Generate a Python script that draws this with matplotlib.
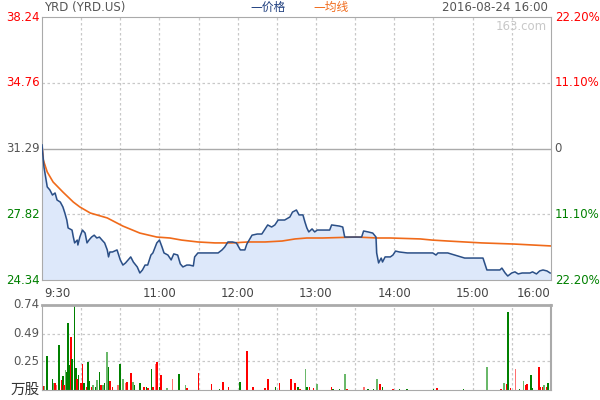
import numpy as np
import matplotlib
matplotlib.use('Agg')
from matplotlib import pyplot as plt

plt.rcParams['font.family'] = ['DejaVu Sans', 'Noto Sans CJK SC']
plt.rcParams['axes.unicode_minus'] = False

# 分钟数(从9:30起), 价格
price_min = [0, 1.5, 4, 6, 8, 10, 11.5, 14, 16, 17.5, 19, 20, 23, 24, 25, 27, 27.5, 29,
             31, 33, 34.5, 36, 38, 40, 42, 44, 46, 48, 50, 51, 52, 54, 57.5, 60, 62, 64,
             66, 68, 70, 73, 75, 77, 79, 81, 83.5, 85, 88, 90, 92, 93.5, 96.5, 99, 101,
             104, 106, 108, 111, 113, 116, 117, 119.5, 127, 135, 138, 140, 142.5, 146,
             149, 152, 155.5, 157, 161, 165, 168.5, 171, 173, 176, 178.5, 181, 186, 190,
             192, 195, 197, 200, 201.5, 203, 204.5, 207, 209, 211, 215, 220.5, 222, 228,
             230.5, 232, 238, 245, 246.5, 250, 253.5, 256, 256.5, 258, 260, 261, 263, 267,
             269, 271, 274, 280, 284, 290, 296, 299.5, 302, 303.5, 311, 324, 325.5, 332,
             338, 341, 347, 351, 352.5, 355, 357, 360, 362.5, 365, 368, 370, 374, 376,
             379, 381.5, 384, 387, 389.5]
price = [31.48, 30.31, 29.26, 29.10, 28.83, 28.94, 28.57, 28.46, 28.20, 27.88, 27.51, 27.09,
         26.98, 26.61, 26.30, 26.45, 26.19, 26.61, 26.98, 26.82, 26.30, 26.45, 26.61, 26.71,
         26.56, 26.61, 26.45, 26.30, 25.93, 25.56, 25.82, 25.82, 25.93, 25.40, 25.13, 25.24,
         25.40, 25.56, 25.29, 25.03, 24.71, 24.87, 25.13, 25.13, 25.66, 25.77, 26.30, 26.45,
         26.08, 25.77, 25.66, 25.40, 25.72, 25.66, 25.19, 25.03, 25.13, 25.13, 25.08, 25.56,
         25.77, 25.77, 25.77, 25.93, 26.08, 26.35, 26.35, 26.30, 25.93, 25.93, 26.24, 26.71,
         26.77, 26.77, 27.04, 27.25, 27.14, 27.25, 27.51, 27.51, 27.67, 27.93, 28.04, 27.78,
         27.78, 27.41, 27.09, 26.88, 27.04, 26.88, 26.98, 26.98, 26.98, 27.25, 27.19, 27.14,
         26.61, 26.61, 26.61, 26.93, 26.88, 26.82, 26.61, 25.77, 25.24, 25.50, 25.29, 25.56,
         25.56, 25.66, 25.87, 25.82, 25.77, 25.77, 25.77, 25.77, 25.77, 25.66, 25.77, 25.77,
         25.50, 25.50, 25.50, 25.50, 24.87, 24.87, 24.87, 24.97, 24.71, 24.55, 24.71, 24.77,
         24.66, 24.71, 24.71, 24.71, 24.77, 24.66, 24.82, 24.87, 24.82, 24.71]

# 均价线
avg_min = [0, 1, 4, 8.5, 16, 24, 29, 37, 50, 62, 75, 88, 98, 107, 119.5, 132.5, 145.5,
           158, 171, 184, 194, 203, 215, 241, 257, 267, 290, 299, 311, 337, 362, 390]
avg_price = [31.47, 30.68, 30.05, 29.52, 28.99, 28.46, 28.20, 27.88, 27.62, 27.19, 26.82,
             26.61, 26.56, 26.45, 26.35, 26.30, 26.30, 26.35, 26.35, 26.40, 26.51, 26.56,
             26.56, 26.61, 26.56, 26.56, 26.51, 26.45, 26.40, 26.30, 26.24, 26.14]

# 成交量(万股)
vol_min = [1, 2, 4, 8, 9, 10, 11, 13, 15, 16, 17, 18, 19, 20, 21, 22, 23, 25, 26, 27, 28,
           30, 31, 32, 34, 35, 36, 38, 39, 41, 42, 44, 45, 47, 48, 50, 51, 52, 54, 58, 60,
           62, 64, 65, 68, 70, 71, 75, 78, 80, 81, 84, 85, 87, 88, 90, 91, 96, 100, 105,
           110, 111, 120, 130, 136, 139, 143, 152, 157, 162, 171, 173, 179, 182, 191, 194,
           196, 198, 202, 203, 205, 208, 211, 222, 223, 228, 232, 234, 247, 250, 254, 257,
           259, 261, 269, 274, 280, 300, 303, 323, 341, 352, 354, 356, 357, 359, 363, 366,
           369, 371, 372, 375, 376, 381, 382, 384, 385, 387, 388]
vol = [0.035, 0.035, 0.30, 0.10, 0.06, 0.06, 0.04, 0.39, 0.09, 0.12, 0.04, 0.17, 0.16, 0.58,
       0.22, 0.46, 0.27, 0.74, 0.19, 0.10, 0.13, 0.06, 0.23, 0.06, 0.03, 0.24, 0.08, 0.03,
       0.04, 0.03, 0.09, 0.16, 0.04, 0.04, 0.06, 0.33, 0.20, 0.08, 0.03, 0.04, 0.23, 0.10,
       0.06, 0.07, 0.15, 0.07, 0.04, 0.06, 0.03, 0.03, 0.02, 0.18, 0.03, 0.23, 0.24, 0.03,
       0.13, 0.02, 0.10, 0.14, 0.04, 0.02, 0.15, 0.05, 0.01, 0.07, 0.03, 0.07, 0.34, 0.03,
       0.02, 0.10, 0.03, 0.06, 0.10, 0.06, 0.03, 0.01, 0.18, 0.03, 0.03, 0.02, 0.05, 0.03,
       0.01, 0.01, 0.14, 0.01, 0.03, 0.01, 0.01, 0.10, 0.05, 0.03, 0.01, 0.01, 0.01, 0.01,
       0.02, 0.01, 0.20, 0.01, 0.06, 0.05, 0.68, 0.02, 0.18, 0.01, 0.08, 0.04, 0.05, 0.13,
       0.02, 0.20, 0.03, 0.03, 0.04, 0.03, 0.06]
vol_side = ['r', 'lg', 'g', 'g', 'lg', 'r', 'lr', 'g', 'r', 'g', 'r', 'lg', 'g', 'g', 'g',
            'r', 'g', 'g', 'g', 'r', 'g', 'r', 'r', 'g', 'r', 'g', 'g', 'r', 'lg', 'g', 'lg',
            'g', 'r', 'lg', 'g', 'lg', 'g', 'r', 'r', 'lr', 'g', 'lg', 'lr', 'r', 'r', 'lg',
            'g', 'g', 'r', 'g', 'r', 'g', 'r', 'lr', 'r', 'g', 'r', 'lg', 'lr', 'g', 'lg',
            'r', 'r', 'r', 'g', 'r', 'r', 'g', 'r', 'r', 'r', 'r', 'g', 'r', 'r', 'r', 'g',
            'r', 'lg', 'g', 'r', 'r', 'lg', 'r', 'g', 'g', 'lg', 'r', 'lr', 'g', 'g', 'lg',
            'r', 'g', 'r', 'g', 'g', 'g', 'r', 'g', 'lg', 'r', 'lg', 'r', 'g', 'r', 'lr', 'g',
            'lg', 'r', 'r', 'g', 'g', 'r', 'r', 'r', 'lg', 'r', 'g']

prev_close = 31.29
price_ticks = [24.34, 27.82, 31.29, 34.76, 38.24]
pct_labels = ['22.20%', '11.10%', '0', '11.10%', '22.20%']
tick_colors = ['#008000', '#008000', '#555555', '#ff0000', '#ff0000']
time_pos = [0, 90, 150, 210, 270, 330, 390]
time_labels = ['9:30', '11:00', '12:00', '13:00', '14:00', '15:00', '16:00']
vol_ticks = [0.25, 0.49, 0.74]

side_colors = {'r': '#ff0000', 'lr': '#ff7070', 'g': '#008000', 'lg': '#6ab86a'}
grid_kw = dict(color='#c8c8c8', linestyle=(0, (2, 2)), linewidth=0.9)

fig = plt.figure(figsize=(6, 4), dpi=100)
ax = fig.add_axes([0.07, 0.30, 0.848, 0.6575])
axv = fig.add_axes([0.07, 0.025, 0.848, 0.2125])

# 分时图
ax.fill_between(price_min, price, 24.34, color='#dde8fa', zorder=1)
ax.plot(price_min, price, color='#2b4f86', linewidth=1.1, zorder=3)
ax.plot(avg_min, avg_price, color='#f06a1a', linewidth=1.2, zorder=2)
ax.set_xlim(0, 390)
ax.set_ylim(24.34, 38.24)
for m in range(30, 390, 30):
    ax.axvline(m, **grid_kw, zorder=0)
for p in price_ticks[1:-1]:
    if p == prev_close:
        ax.axhline(p, color='#aaaaaa', linewidth=1, zorder=0)
    else:
        ax.axhline(p, **grid_kw, zorder=0)
ax.set_xticks([])
ax.set_yticks([])
for s in ax.spines.values():
    s.set_color('#aaaaaa')

for p, c, lab in zip(price_ticks, tick_colors, pct_labels):
    ax.text(-2, p, '%.2f' % p, color=c, fontsize=8.5, ha='right', va='center')
    ax.text(393, p, lab, color=c, fontsize=8.5, ha='left', va='center')

for t, lab in zip(time_pos, time_labels):
    ha = 'left' if t == 0 else ('right' if t == 390 else 'center')
    ax.text(t + (1.5 if t == 0 else 0), 23.95, lab, color='#444444', fontsize=8.5,
            ha=ha, va='top')

ax.text(1.5, 38.75, 'YRD (YRD.US)', color='#555555', fontsize=8.5, ha='left', va='center')
ax.text(160, 38.75, '—价格', color='#1f3f7f', fontsize=8.5, ha='left', va='center')
ax.text(208, 38.75, '—均线', color='#f06a1a', fontsize=8.5, ha='left', va='center')
ax.text(388, 38.75, '2016-08-24 16:00', color='#555555', fontsize=8.5, ha='right',
        va='center')
ax.text(387, 37.75, '163.com', color='#c8c8c8', fontsize=8.5, ha='right', va='center')

# 成交量
axv.bar(vol_min, vol, width=1.3, linewidth=0, color=[side_colors[s] for s in vol_side],
        zorder=2)
axv.set_xlim(0, 390)
axv.set_ylim(0, 0.74)
for m in range(30, 390, 30):
    axv.axvline(m, **grid_kw, zorder=0)
for v in vol_ticks[:-1]:
    axv.axhline(v, **grid_kw, zorder=0)
axv.set_xticks([])
axv.set_yticks([])
for s in axv.spines.values():
    s.set_color('#aaaaaa')
axv.spines['top'].set_linewidth(2)
axv.spines['right'].set_linewidth(1.5)
for v in vol_ticks:
    axv.text(-2, v, '%.2f' % v, color='#555555', fontsize=8.5, ha='right', va='center')
axv.text(-2, 0.01, '万股', color='#333333', fontsize=10.5, ha='right', va='center')

fig.savefig('out.png', dpi=100)
